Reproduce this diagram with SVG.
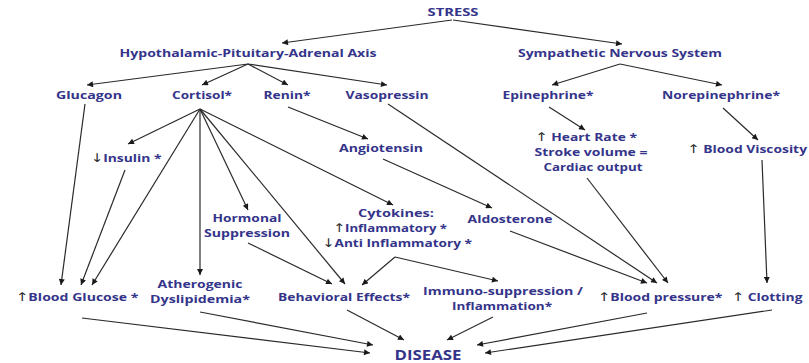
<svg xmlns="http://www.w3.org/2000/svg" width="809" height="363" viewBox="0 0 809 363">
<style>
.t{font-family:"Open Sans","DejaVu Sans",sans-serif;font-weight:700;font-size:11px;fill:#34348a;text-anchor:middle}
.big{font-size:13.5px}
.ar{font-family:"DejaVu Sans",sans-serif;font-weight:400;font-size:12px;fill:#2a2a2a}
.c line{stroke:#2a2a2a;stroke-width:1.2;marker-end:url(#a)}
</style>
<defs>
<marker id="a" viewBox="0 0 10 10" refX="10" refY="5" markerWidth="7" markerHeight="6" markerUnits="userSpaceOnUse" orient="auto">
<path d="M0,0 L10,5 L0,10 z" fill="#1a1a1a"/>
</marker>
</defs>
<rect width="809" height="363" fill="#fff"/>
<g class="c">
<line x1="452" y1="20" x2="282" y2="43"/>
<line x1="453" y1="20" x2="622" y2="44"/>
<line x1="248" y1="64" x2="87" y2="85"/>
<line x1="248" y1="64" x2="202" y2="85"/>
<line x1="248" y1="64" x2="288" y2="85"/>
<line x1="248" y1="64" x2="387" y2="85"/>
<line x1="620" y1="64" x2="552" y2="85"/>
<line x1="620" y1="64" x2="722" y2="85"/>
<line x1="85" y1="104" x2="61" y2="285"/>
<line x1="200" y1="109" x2="128" y2="144"/>
<line x1="200" y1="109" x2="92" y2="285"/>
<line x1="125" y1="170" x2="81" y2="285"/>
<line x1="200" y1="109" x2="200" y2="275"/>
<line x1="200" y1="109" x2="248" y2="210"/>
<line x1="200" y1="109" x2="345" y2="284"/>
<line x1="200" y1="109" x2="393" y2="205"/>
<line x1="288" y1="107" x2="368" y2="139"/>
<line x1="383" y1="159" x2="492" y2="208"/>
<line x1="388" y1="104" x2="657" y2="283"/>
<line x1="510" y1="231" x2="647" y2="283"/>
<line x1="549" y1="107" x2="585" y2="130"/>
<line x1="587" y1="178" x2="668" y2="283"/>
<line x1="723" y1="108" x2="758" y2="140"/>
<line x1="762" y1="160" x2="767" y2="283"/>
<line x1="248" y1="243" x2="332" y2="284"/>
<line x1="395" y1="257" x2="362" y2="285"/>
<line x1="395" y1="257" x2="498" y2="281"/>
<line x1="82" y1="318" x2="370" y2="353"/>
<line x1="200" y1="312" x2="373" y2="345"/>
<line x1="347" y1="310" x2="404" y2="340"/>
<line x1="493" y1="317" x2="447" y2="340"/>
<line x1="647" y1="313" x2="477" y2="345"/>
<line x1="772" y1="310" x2="485" y2="353"/>
</g>
<g id="stress"><text class="t" x="453" y="16" textLength="51" lengthAdjust="spacingAndGlyphs">STRESS</text></g>
<g id="hpa"><text class="t" x="248" y="57" textLength="257" lengthAdjust="spacingAndGlyphs">Hypothalamic-Pituitary-Adrenal Axis</text></g>
<g id="sns"><text class="t" x="620" y="57" textLength="204" lengthAdjust="spacingAndGlyphs">Sympathetic Nervous System</text></g>
<g id="glucagon"><text class="t" x="89" y="99" textLength="66" lengthAdjust="spacingAndGlyphs">Glucagon</text></g>
<g id="cortisol"><text class="t" x="202" y="99" textLength="60" lengthAdjust="spacingAndGlyphs">Cortisol*</text></g>
<g id="renin"><text class="t" x="287" y="99" textLength="47" lengthAdjust="spacingAndGlyphs">Renin*</text></g>
<g id="vasopressin"><text class="t" x="387" y="99" textLength="83" lengthAdjust="spacingAndGlyphs">Vasopressin</text></g>
<g id="epinephrine"><text class="t" x="548" y="99" textLength="91" lengthAdjust="spacingAndGlyphs">Epinephrine*</text></g>
<g id="norepinephrine"><text class="t" x="721" y="99" textLength="118" lengthAdjust="spacingAndGlyphs">Norepinephrine*</text></g>
<g id="insulin"><text class="t" x="126" y="162" textLength="71" lengthAdjust="spacingAndGlyphs"><tspan class="ar">↓</tspan>Insulin *</text></g>
<g id="angiotensin"><text class="t" x="381" y="152" textLength="84" lengthAdjust="spacingAndGlyphs">Angiotensin</text></g>
<g id="heartrate">
<text class="t" x="586" y="141" textLength="102" lengthAdjust="spacingAndGlyphs"><tspan class="ar">↑</tspan> Heart Rate *</text>
<text class="t" x="591" y="156" textLength="113" lengthAdjust="spacingAndGlyphs">Stroke volume =</text>
<text class="t" x="593" y="171" textLength="99" lengthAdjust="spacingAndGlyphs">Cardiac output</text>
</g>
<g id="viscosity"><text class="t" x="747" y="153" textLength="120" lengthAdjust="spacingAndGlyphs"><tspan class="ar">↑</tspan> Blood Viscosity</text></g>
<g id="hormonal">
<text class="t" x="247" y="222" textLength="69" lengthAdjust="spacingAndGlyphs">Hormonal</text>
<text class="t" x="247" y="237" textLength="86" lengthAdjust="spacingAndGlyphs">Suppression</text>
</g>
<g id="cytokines">
<text class="t" x="396" y="217" textLength="76" lengthAdjust="spacingAndGlyphs">Cytokines:</text>
<text class="t" x="390" y="232" textLength="114" lengthAdjust="spacingAndGlyphs"><tspan class="ar">↑</tspan>Inflammatory *</text>
<text class="t" x="397" y="247" textLength="150" lengthAdjust="spacingAndGlyphs"><tspan class="ar">↓</tspan>Anti Inflammatory *</text>
</g>
<g id="aldosterone"><text class="t" x="510" y="223" textLength="85" lengthAdjust="spacingAndGlyphs">Aldosterone</text></g>
<g id="glucose"><text class="t" x="77" y="301" textLength="123" lengthAdjust="spacingAndGlyphs"><tspan class="ar">↑</tspan>Blood Glucose *</text></g>
<g id="atherogenic">
<text class="t" x="200" y="288" textLength="85" lengthAdjust="spacingAndGlyphs">Atherogenic</text>
<text class="t" x="200" y="303" textLength="100" lengthAdjust="spacingAndGlyphs">Dyslipidemia*</text>
</g>
<g id="behavioral"><text class="t" x="344" y="301" textLength="132" lengthAdjust="spacingAndGlyphs">Behavioral Effects*</text></g>
<g id="immuno">
<text class="t" x="503" y="295" textLength="160" lengthAdjust="spacingAndGlyphs">Immuno-suppression /</text>
<text class="t" x="502" y="310" textLength="100" lengthAdjust="spacingAndGlyphs">Inflammation*</text>
</g>
<g id="bp"><text class="t" x="660" y="301" textLength="125" lengthAdjust="spacingAndGlyphs"><tspan class="ar">↑</tspan>Blood pressure*</text></g>
<g id="clotting"><text class="t" x="767" y="301" textLength="71" lengthAdjust="spacingAndGlyphs"><tspan class="ar">↑</tspan> Clotting</text></g>
<g id="disease"><text class="t big" x="428" y="360" textLength="67" lengthAdjust="spacingAndGlyphs">DISEASE</text></g>
</svg>
